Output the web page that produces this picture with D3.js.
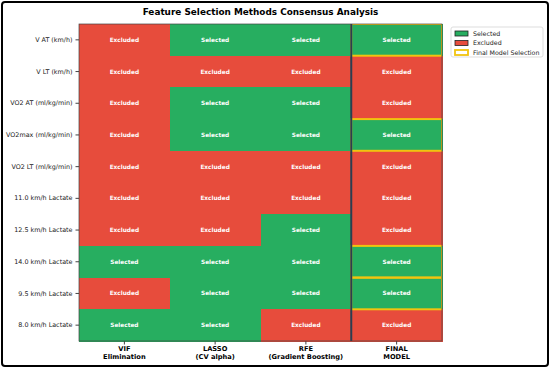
<!DOCTYPE html>
<html>
<head>
<meta charset="utf-8">
<script src="https://cdn.jsdelivr.net/npm/d3@7"></script>
<style>
  body { margin: 0; background: #fff; }
  text { font-family: "DejaVu Sans", sans-serif; }
</style>
</head>
<body>
<script>
var features = ["V AT (km/h)", "V LT (km/h)", "VO2 AT (ml/kg/min)", "VO2max (ml/kg/min)",
  "VO2 LT (ml/kg/min)", "11.0 km/h Lactate", "12.5 km/h Lactate", "14.0 km/h Lactate",
  "9.5 km/h Lactate", "8.0 km/h Lactate"];
var methods = ["VIF|Elimination", "LASSO|(CV alpha)", "RFE|(Gradient Boosting)", "FINAL|MODEL"];
// 1 = selected, 0 = excluded
var vif   = [0, 0, 0, 0, 0, 0, 0, 1, 0, 1];
var lasso = [1, 0, 1, 1, 0, 0, 0, 1, 1, 1];
var rfe   = [1, 0, 1, 1, 0, 0, 1, 1, 1, 0];
var final = [1, 0, 0, 1, 0, 0, 0, 1, 1, 0];
var legendLabels = ["Selected", "Excluded", "Final Model Selection"];

var width = 550, height = 368;
var padding = { top: 24, right: 108, bottom: 27, left: 79 };
var green = "#27ae60", red = "#e74c3c", gold = "#f1c40f";

var svg = d3.select("body").append("svg")
  .attr("width", width).attr("height", height);

svg.append("rect")
  .attr("x", 2).attr("y", 2).attr("width", width - 4).attr("height", height - 4)
  .attr("rx", 3).attr("fill", "#fff").attr("stroke", "#000").attr("stroke-width", 2);

var xScale = d3.scaleBand().domain(methods)
  .range([padding.left, width - padding.right]);
var yScale = d3.scaleBand().domain(features)
  .range([padding.top, height - padding.bottom]);

var plotW = width - padding.left - padding.right;
var plotH = height - padding.top - padding.bottom;

svg.append("clipPath").attr("id", "plotclip")
  .append("rect")
  .attr("x", padding.left).attr("y", padding.top)
  .attr("width", plotW).attr("height", plotH);

var cols = [vif, lasso, rfe, final];
var cells = [];
cols.forEach(function(c, j) {
  c.forEach(function(v, i) {
    cells.push({ m: methods[j], f: features[i], v: v, j: j });
  });
});

svg.append("g").attr("shape-rendering", "crispEdges").selectAll("rect")
  .data(cells).enter().append("rect")
  .attr("x", d => xScale(d.m))
  .attr("y", d => yScale(d.f))
  .attr("width", xScale.bandwidth() + 0.5)
  .attr("height", yScale.bandwidth() + 0.5)
  .attr("fill", d => d.v ? green : red);

svg.append("g").selectAll("text")
  .data(cells).enter().append("text")
  .attr("x", d => xScale(d.m) + xScale.bandwidth() / 2)
  .attr("y", d => yScale(d.f) + yScale.bandwidth() / 2)
  .attr("dy", "0.35em")
  .attr("text-anchor", "middle")
  .attr("fill", "#fff")
  .attr("font-size", 5.8)
  .attr("font-weight", "bold")
  .text(d => d.v ? "Selected" : "Excluded");

// gold outline for final model selections
svg.append("g").attr("clip-path", "url(#plotclip)").selectAll("rect")
  .data(cells.filter(d => d.j === 3 && d.v)).enter().append("rect")
  .attr("x", d => xScale(d.m))
  .attr("y", d => yScale(d.f))
  .attr("width", xScale.bandwidth())
  .attr("height", yScale.bandwidth())
  .attr("fill", "none")
  .attr("stroke", gold).attr("stroke-width", 2);

// separator before final column
svg.append("line")
  .attr("x1", xScale(methods[3])).attr("x2", xScale(methods[3]))
  .attr("y1", padding.top).attr("y2", height - padding.bottom)
  .attr("stroke", "#2c3e50").attr("stroke-width", 2);

// frame
svg.append("rect")
  .attr("x", padding.left).attr("y", padding.top)
  .attr("width", plotW).attr("height", plotH)
  .attr("fill", "none").attr("stroke", "#444").attr("stroke-width", 0.7);

var yAxis = d3.axisLeft(yScale).tickSize(3.5).tickPadding(3);
var gy = svg.append("g").attr("transform", "translate(" + padding.left + ",0)").call(yAxis);
gy.select(".domain").remove();
gy.selectAll("line").attr("stroke", "#444");
gy.selectAll("text").attr("font-size", 6.4).attr("font-family", "DejaVu Sans").attr("fill", "#222");

var xAxis = d3.axisBottom(xScale).tickSize(3.5).tickFormat("");
var gx = svg.append("g").attr("transform", "translate(0," + (height - padding.bottom) + ")").call(xAxis);
gx.select(".domain").remove();
gx.selectAll("line").attr("stroke", "#444");
gx.selectAll(".tick").each(function(d) {
  var parts = d.split("|");
  var t = d3.select(this).append("text")
    .attr("fill", "#000").attr("font-size", 6.7).attr("font-weight", "bold")
    .attr("text-anchor", "middle").attr("font-family", "DejaVu Sans");
  parts.forEach(function(p, k) {
    t.append("tspan").attr("x", 0).attr("y", 9.8 + k * 8.6).text(p);
  });
});

svg.append("text")
  .attr("x", (padding.left + width - padding.right) / 2)
  .attr("y", 15.2)
  .attr("text-anchor", "middle")
  .attr("font-size", 8.9)
  .attr("font-weight", "bold")
  .text("Feature Selection Methods Consensus Analysis");

// legend
var lg = svg.append("g").attr("transform", "translate(451,27)");
lg.append("rect").attr("width", 92).attr("height", 30)
  .attr("fill", "#fff").attr("stroke", "#ddd").attr("rx", 2);
var items = lg.selectAll(".item").data(legendLabels).enter().append("g")
  .attr("transform", (d, i) => "translate(4," + (3.5 + i * 9.5) + ")");
items.append("rect")
  .attr("width", 13).attr("height", 5)
  .attr("fill", (d, i) => i === 0 ? green : i === 1 ? red : "none")
  .attr("stroke", (d, i) => i === 2 ? gold : "#222")
  .attr("stroke-width", (d, i) => i === 2 ? 1.8 : 0.8)
  .attr("y", 0.5);
items.append("text")
  .attr("x", 18).attr("y", 3).attr("dy", "0.35em")
  .attr("font-size", 6.3).attr("fill", "#222")
  .text(d => d);
</script>
</body>
</html>
